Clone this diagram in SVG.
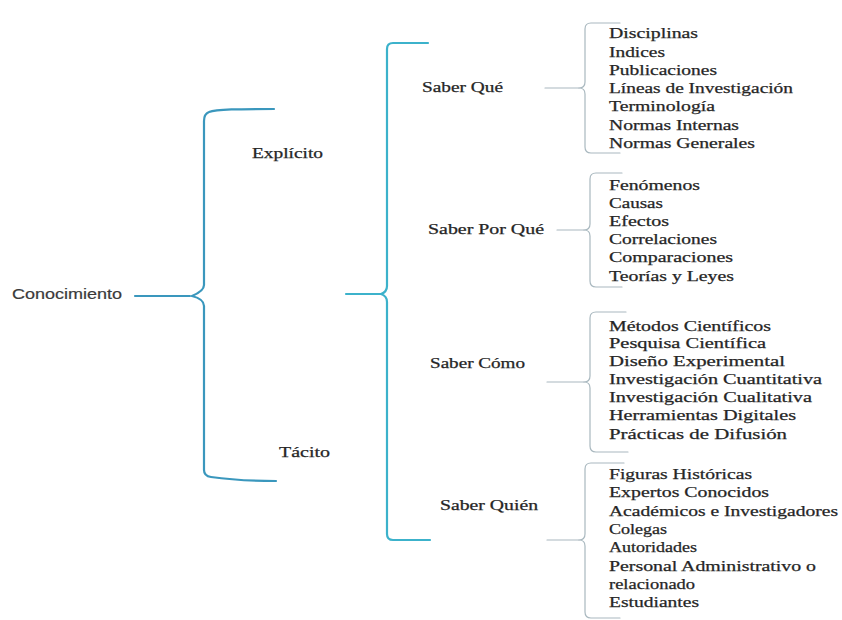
<svg xmlns="http://www.w3.org/2000/svg" width="842" height="620" viewBox="0 0 842 620">
<style>
.t{font-family:"Liberation Serif","Times New Roman",serif;font-size:14px;fill:#262626;stroke:#262626;stroke-width:0.25;}
.s{font-family:"Liberation Sans",Arial,sans-serif;font-size:14px;fill:#3a3a3a;stroke:#3a3a3a;stroke-width:0.2;}
.b1{fill:none;stroke:#3a97bd;stroke-width:2.2;stroke-linecap:round;stroke-linejoin:round;}
.b2{fill:none;stroke:#3cb2cb;stroke-width:2.2;stroke-linecap:round;stroke-linejoin:round;}
.b3{fill:none;stroke:#a9b8bf;stroke-width:1.2;stroke-linecap:round;stroke-linejoin:round;}
</style>
<rect width="842" height="620" fill="#ffffff"/>
<g id="connectors">
  <path class="b1" d="M 135 296 L 190 296"/>
  <path class="b1" d="M 274 109 C 240 109 216 109 209 112 Q 204 114 204 121 L 204 285 Q 204 291 192 296 Q 204 299 204 306 L 204 470 Q 204 476 211 477 C 232 480 252 481 276 481"/>
  <path class="b2" d="M 346 294 L 381 294"/>
  <path class="b2" d="M 428 43 L 393 43 Q 387 43 387 49 L 387 286 Q 387 292 381 294 Q 387 296 387 302 L 387 534 Q 387 540 393 540 L 430 540"/>
  <path class="b3" d="M 545 88 L 579 88"/>
  <path class="b3" d="M 620 23 L 591 23 Q 585 23 585 29 L 585 82 Q 585 88 579 88 Q 585 88 585 94 L 585 147 Q 585 153 591 153 L 620 153"/>
  <path class="b3" d="M 557 230 L 584 230"/>
  <path class="b3" d="M 622 173 L 596 173 Q 590 173 590 179 L 590 224 Q 590 230 584 230 Q 590 230 590 236 L 590 281 Q 590 287 596 287 L 622 287"/>
  <path class="b3" d="M 547 382 L 584 382"/>
  <path class="b3" d="M 626 312 L 596 312 Q 590 312 590 318 L 590 376 Q 590 382 584 382 Q 590 382 590 388 L 590 446 Q 590 452 596 452 L 628 452"/>
  <path class="b3" d="M 547 540 L 579 540"/>
  <path class="b3" d="M 624 463 L 591 463 Q 585 463 585 469 L 585 534 Q 585 540 579 540 Q 585 540 585 546 L 585 612 Q 585 618 591 618 L 620 618"/>
</g>
<g id="conocimiento"><text class="s" x="12" y="299" textLength="110" lengthAdjust="spacingAndGlyphs">Conocimiento</text></g>
<g id="explicito"><text class="t" x="252" y="158" textLength="71" lengthAdjust="spacingAndGlyphs">Explícito</text></g>
<g id="tacito"><text class="t" x="279" y="457" textLength="51" lengthAdjust="spacingAndGlyphs">Tácito</text></g>
<g id="saber-que">
  <text class="t" x="422" y="92" textLength="81" lengthAdjust="spacingAndGlyphs">Saber Qué</text>
  <text class="t" x="609" y="38" textLength="89" lengthAdjust="spacingAndGlyphs">Disciplinas</text>
  <text class="t" x="609" y="57" textLength="56" lengthAdjust="spacingAndGlyphs">Indices</text>
  <text class="t" x="609" y="75" textLength="108" lengthAdjust="spacingAndGlyphs">Publicaciones</text>
  <text class="t" x="609" y="93" textLength="184" lengthAdjust="spacingAndGlyphs">Líneas de Investigación</text>
  <text class="t" x="609" y="111" textLength="106" lengthAdjust="spacingAndGlyphs">Terminología</text>
  <text class="t" x="609" y="130" textLength="130" lengthAdjust="spacingAndGlyphs">Normas Internas</text>
  <text class="t" x="609" y="148" textLength="146" lengthAdjust="spacingAndGlyphs">Normas Generales</text>
</g>
<g id="saber-por-que">
  <text class="t" x="428" y="234" textLength="116" lengthAdjust="spacingAndGlyphs">Saber Por Qué</text>
  <text class="t" x="609" y="190" textLength="91" lengthAdjust="spacingAndGlyphs">Fenómenos</text>
  <text class="t" x="609" y="208" textLength="54" lengthAdjust="spacingAndGlyphs">Causas</text>
  <text class="t" x="609" y="226" textLength="60" lengthAdjust="spacingAndGlyphs">Efectos</text>
  <text class="t" x="609" y="244" textLength="108" lengthAdjust="spacingAndGlyphs">Correlaciones</text>
  <text class="t" x="609" y="262" textLength="124" lengthAdjust="spacingAndGlyphs">Comparaciones</text>
  <text class="t" x="609" y="281" textLength="125" lengthAdjust="spacingAndGlyphs">Teorías y Leyes</text>
</g>
<g id="saber-como">
  <text class="t" x="430" y="368" textLength="95" lengthAdjust="spacingAndGlyphs">Saber Cómo</text>
  <text class="t" x="609" y="331" textLength="162" lengthAdjust="spacingAndGlyphs">Métodos Científicos</text>
  <text class="t" x="609" y="348" textLength="157" lengthAdjust="spacingAndGlyphs">Pesquisa Científica</text>
  <text class="t" x="609" y="366" textLength="176" lengthAdjust="spacingAndGlyphs">Diseño Experimental</text>
  <text class="t" x="609" y="384" textLength="213" lengthAdjust="spacingAndGlyphs">Investigación Cuantitativa</text>
  <text class="t" x="609" y="402" textLength="203" lengthAdjust="spacingAndGlyphs">Investigación Cualitativa</text>
  <text class="t" x="609" y="420" textLength="187" lengthAdjust="spacingAndGlyphs">Herramientas Digitales</text>
  <text class="t" x="609" y="439" textLength="178" lengthAdjust="spacingAndGlyphs">Prácticas de Difusión</text>
</g>
<g id="saber-quien">
  <text class="t" x="440" y="510" textLength="98" lengthAdjust="spacingAndGlyphs">Saber Quién</text>
  <text class="t" x="609" y="479" textLength="143" lengthAdjust="spacingAndGlyphs">Figuras Históricas</text>
  <text class="t" x="609" y="497" textLength="160" lengthAdjust="spacingAndGlyphs">Expertos Conocidos</text>
  <text class="t" x="609" y="516" textLength="229" lengthAdjust="spacingAndGlyphs">Académicos e Investigadores</text>
  <text class="t" x="609" y="534" textLength="58" lengthAdjust="spacingAndGlyphs">Colegas</text>
  <text class="t" x="609" y="552" textLength="88" lengthAdjust="spacingAndGlyphs">Autoridades</text>
  <text class="t" x="609" y="571" textLength="207" lengthAdjust="spacingAndGlyphs">Personal Administrativo o</text>
  <text class="t" x="609" y="589" textLength="86" lengthAdjust="spacingAndGlyphs">relacionado</text>
  <text class="t" x="609" y="607" textLength="90" lengthAdjust="spacingAndGlyphs">Estudiantes</text>
</g>
</svg>
